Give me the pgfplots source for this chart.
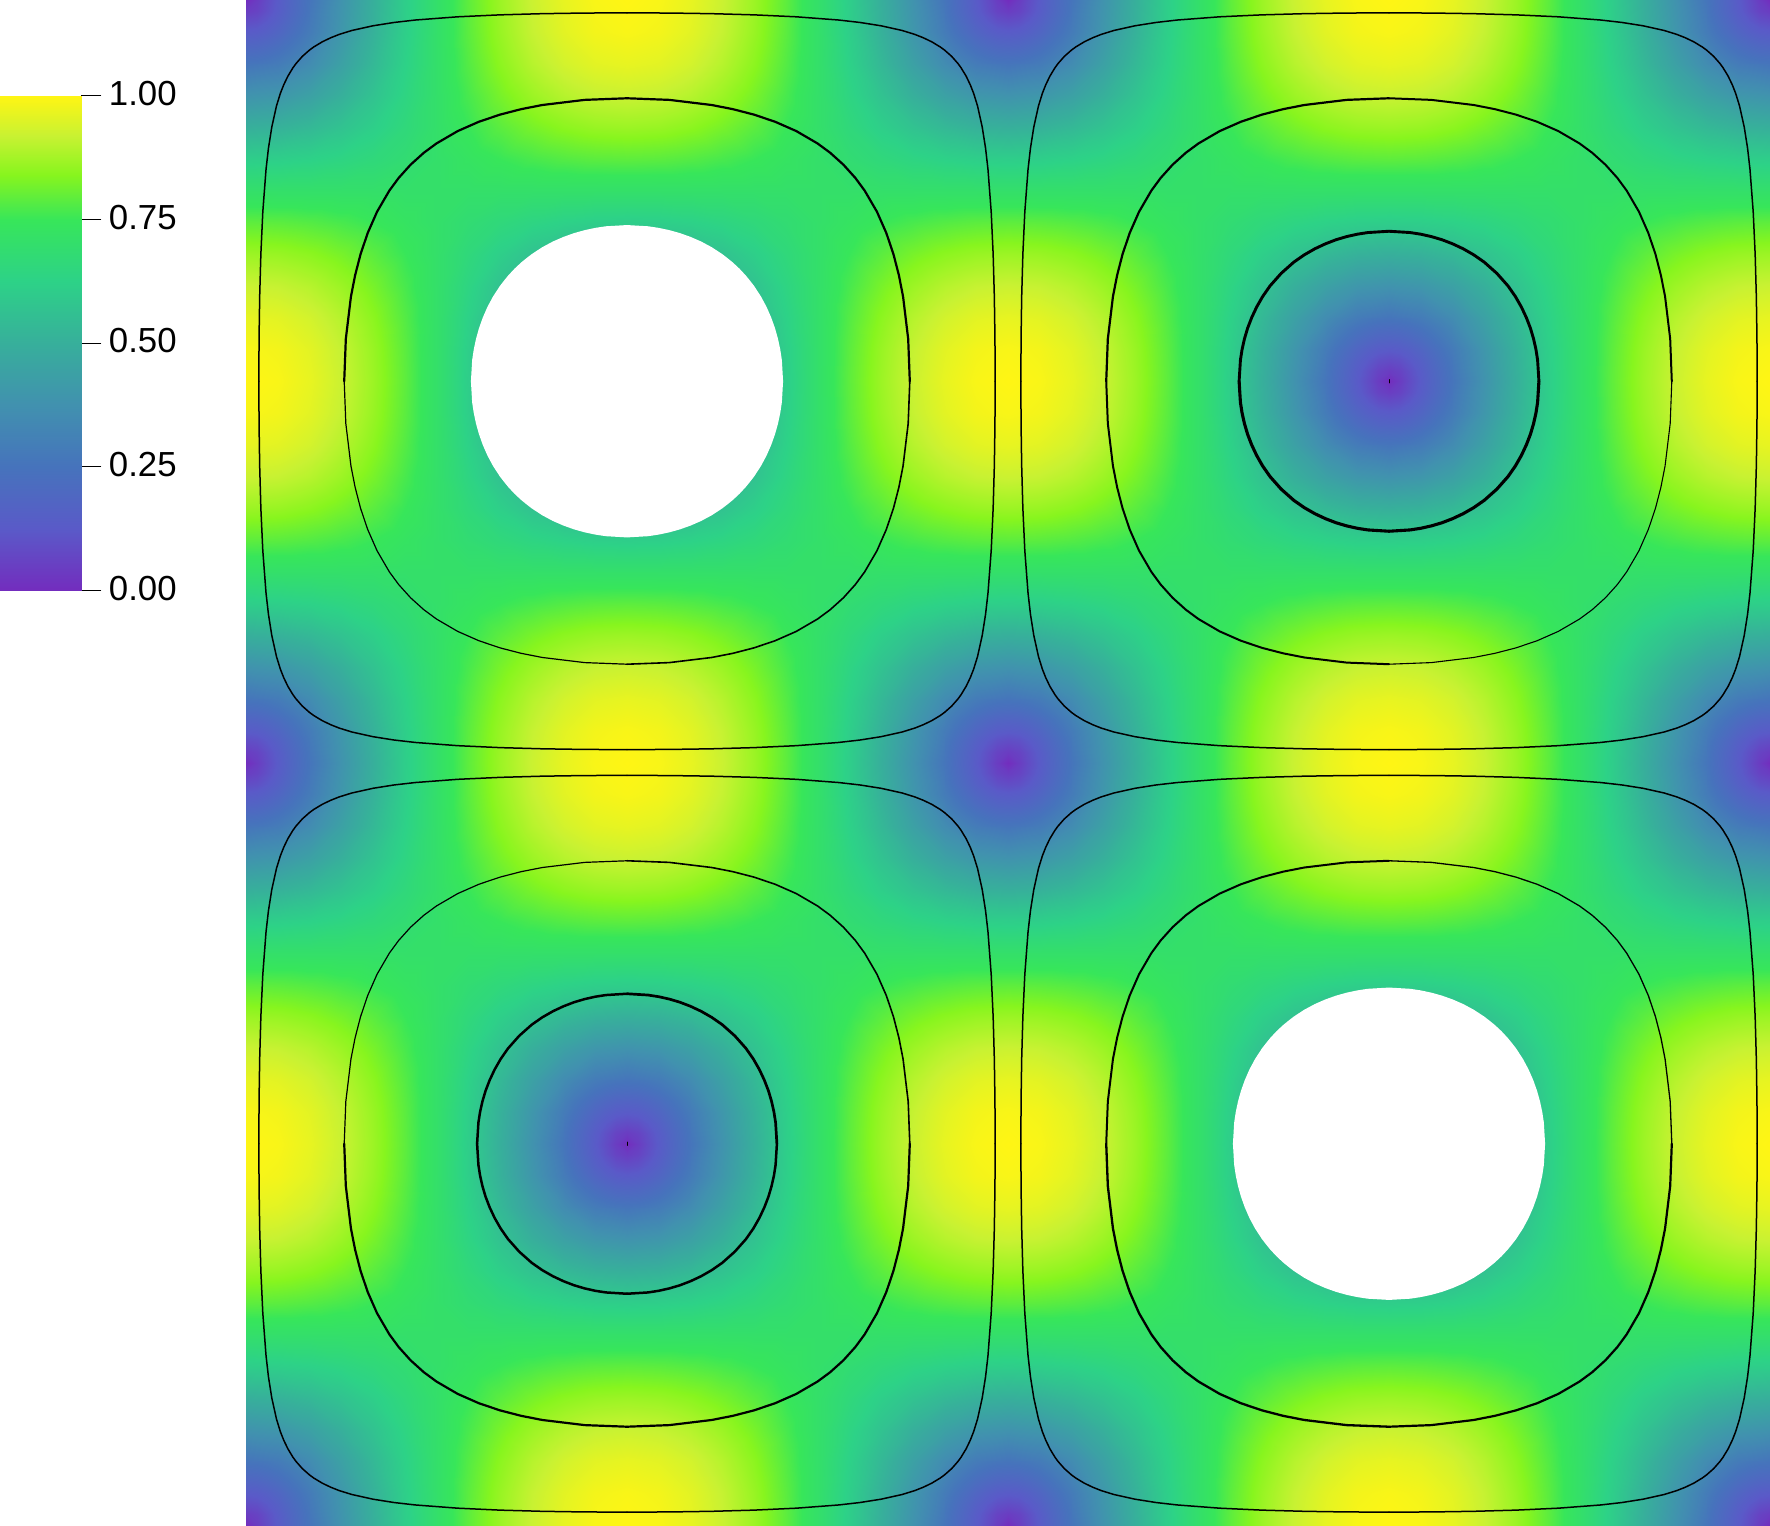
\documentclass[border=0pt]{standalone}
\usepackage{fontspec}
\setmainfont{Liberation Sans}
\usepackage{pgfplots}
\usepackage{pgfplotstable}
\pgfplotsset{compat=1.18}
\pgfplotsset{colormap={pv}{rgb255(0pt)=(115,45,190); rgb255(125pt)=(90,90,200); rgb255(250pt)=(70,115,188); rgb255(375pt)=(65,145,175); rgb255(500pt)=(55,175,155); rgb255(625pt)=(45,210,135); rgb255(750pt)=(55,230,90); rgb255(840pt)=(135,245,30); rgb255(920pt)=(200,242,50); rgb255(1000pt)=(255,245,20)}}
\pgfplotstableread{
x y m
0 0 0
1 0 0.1306
2 0 0.2588
3 0 0.3827
4 0 0.5
5 0 0.6088
6 0 0.7071
7 0 0.7934
8 0 0.8660
9 0 0.9239
10 0 0.9659
11 0 0.9914
12 0 1
0 1 0.1306
1 1 0.1830
2 1 0.2859
3 1 0.3981
4 1 0.5085
5 1 0.6124
6 1 0.7071
7 1 0.7906
8 1 0.8611
9 1 0.9173
10 1 0.9583
11 1 0.9831
12 1 0.9914
0 2 0.2588
1 2 0.2859
2 2 0.3536
3 2 0.4402
4 2 0.5324
5 2 0.6229
6 2 0.7071
7 2 0.7823
8 2 0.8465
9 2 0.8979
10 2 0.9354
11 2 0.9583
12 2 0.9659
0 3 0.3827
1 3 0.3981
2 3 0.4402
3 3 0.5
4 3 0.5685
5 3 0.6391
6 3 0.7071
7 3 0.7691
8 3 0.8227
9 3 0.8660
10 3 0.8979
11 3 0.9173
12 3 0.9239
0 4 0.5
1 4 0.5085
2 4 0.5324
3 4 0.5685
4 4 0.6124
5 4 0.6598
6 4 0.7071
7 4 0.7515
8 4 0.7906
9 4 0.8227
10 4 0.8465
11 4 0.8611
12 4 0.8660
0 5 0.6088
1 5 0.6124
2 5 0.6229
3 5 0.6391
4 5 0.6598
5 5 0.6830
6 5 0.7071
7 5 0.7304
8 5 0.7515
9 5 0.7691
10 5 0.7823
11 5 0.7906
12 5 0.7934
0 6 0.7071
1 6 0.7071
2 6 0.7071
3 6 0.7071
4 6 0.7071
5 6 0.7071
6 6 0.7071
7 6 0.7071
8 6 0.7071
9 6 0.7071
10 6 0.7071
11 6 0.7071
12 6 0.7071
0 7 0.7934
1 7 0.7906
2 7 0.7823
3 7 0.7691
4 7 0.7515
5 7 0.7304
6 7 0.7071
7 7 0.6830
8 7 0.6598
9 7 0.6391
10 7 0.6229
11 7 0.6124
12 7 0.6088
0 8 0.8660
1 8 0.8611
2 8 0.8465
3 8 0.8227
4 8 0.7906
5 8 0.7515
6 8 0.7071
7 8 0.6598
8 8 0.6124
9 8 0.5685
10 8 0.5324
11 8 0.5085
12 8 0.5
0 9 0.9239
1 9 0.9173
2 9 0.8979
3 9 0.8660
4 9 0.8227
5 9 0.7691
6 9 0.7071
7 9 0.6391
8 9 0.5685
9 9 0.5
10 9 0.4402
11 9 0.3981
12 9 0.3827
0 10 0.9659
1 10 0.9583
2 10 0.9354
3 10 0.8979
4 10 0.8465
5 10 0.7823
6 10 0.7071
7 10 0.6229
8 10 0.5324
9 10 0.4402
10 10 0.3536
11 10 0.2859
12 10 0.2588
0 11 0.9914
1 11 0.9831
2 11 0.9583
3 11 0.9173
4 11 0.8611
5 11 0.7906
6 11 0.7071
7 11 0.6124
8 11 0.5085
9 11 0.3981
10 11 0.2859
11 11 0.1830
12 11 0.1306
0 12 1
1 12 0.9914
2 12 0.9659
3 12 0.9239
4 12 0.8660
5 12 0.7934
6 12 0.7071
7 12 0.6088
8 12 0.5
9 12 0.3827
10 12 0.2588
11 12 0.1306
12 12 0
}\field
\pgfplotstableread{
x y m
0 0 0
1 0 0.04364
2 0 0.08715
3 0 0.13052
4 0 0.17365
5 0 0.21644
6 0 0.25882
0 1 0.04364
1 1 0.06164
2 1 0.09731
3 1 0.13739
4 1 0.17873
5 1 0.22039
6 1 0.26198
0 2 0.08715
1 2 0.09731
2 2 0.12278
3 2 0.15613
4 2 0.19311
5 2 0.23180
6 2 0.27123
0 3 0.13052
1 3 0.13739
2 3 0.15613
3 3 0.18300
4 3 0.21486
5 3 0.24957
6 3 0.28590
0 4 0.17365
1 4 0.17873
2 4 0.19311
3 4 0.21486
4 4 0.24185
5 4 0.27235
6 4 0.30512
0 5 0.21644
1 5 0.22039
2 5 0.23180
3 5 0.24957
4 5 0.27235
5 5 0.29883
6 5 0.32796
0 6 0.25882
1 6 0.26198
2 6 0.27123
3 6 0.28590
4 6 0.30512
5 6 0.32796
6 6 0.35355
}\fine
\pgfplotstableread{
a b
0 86.96
10 86.92
20 86.77
30 86.49
40 86.03
50 85.27
55 84.70
60 83.91
65 82.80
68 81.87
70 81.08
72 80.12
74 78.91
75 78.18
76.69 76.69
78.18 75
78.91 74
80.12 72
81.08 70
81.87 68
82.80 65
83.91 60
84.70 55
85.27 50
86.03 40
86.49 30
86.77 20
86.92 10
86.96 0
}\arcOuter
\pgfplotstableread{
a b
0 66.80
10 66.42
20 65.21
25 64.23
30 62.94
35 61.25
40 59.05
45 56.14
48 53.93
51.12 51.12
53.93 48
56.14 45
59.05 40
61.25 35
62.94 30
64.23 25
65.21 20
66.42 10
66.80 0
}\arcMid
\pgfplotstableread{
a b
0 35.41
5 35.10
7.5 34.71
10 34.15
12.5 33.41
15 32.45
17.5 31.28
20 29.85
22.5 28.11
25.47 25.47
28.11 22.5
29.85 20
31.28 17.5
32.45 15
33.41 12.5
34.15 10
34.71 7.5
35.10 5
35.41 0
}\arcIn
\pgfplotstableread{
a b
-2 -2
0 36.87
5 36.58
7.5 36.20
10 35.67
12.5 34.97
15 34.08
17.5 32.99
20 31.65
22.5 30.02
24 28.85
25 28.03
26.57 26.57
28.03 25
28.85 24
30.02 22.5
31.65 20
32.99 17.5
34.08 15
34.97 12.5
35.67 10
36.20 7.5
36.58 5
36.87 0
}\arcHole
\newcommand{\q}[4]{\addplot[surf,shader=interp,mesh/cols=13,point meta=explicit] table[x expr={#1#2\thisrow{x}},y expr={#3#4\thisrow{y}},meta=m]{\field};}
\newcommand{\zq}[4]{\addplot[surf,shader=interp,mesh/cols=7,point meta=explicit] table[x expr={#1#2\thisrow{x}/3},y expr={#3#4\thisrow{y}/3},meta=m]{\fine};}
\newcommand{\zero}[2]{\zq{#1}{-}{#2}{-}\zq{#1}{+}{#2}{-}\zq{#1}{-}{#2}{+}\zq{#1}{+}{#2}{+}}
% ring: table, cx, cy, widths of the quadrants upper left, upper right, lower left, lower right
\newcommand{\ring}[7]{%
\addplot[black,line width=#4pt] table[x expr={#2-\thisrow{a}/7.5},y expr={#3+\thisrow{b}/7.5}]{#1};
\addplot[black,line width=#5pt] table[x expr={#2+\thisrow{a}/7.5},y expr={#3+\thisrow{b}/7.5}]{#1};
\addplot[black,line width=#6pt] table[x expr={#2-\thisrow{a}/7.5},y expr={#3-\thisrow{b}/7.5}]{#1};
\addplot[black,line width=#7pt] table[x expr={#2+\thisrow{a}/7.5},y expr={#3-\thisrow{b}/7.5}]{#1};}
\newcommand{\hole}[2]{%
\addplot[fill=white,draw=none] table[x expr={#1-\thisrow{a}/7.5},y expr={#2+\thisrow{b}/7.5}]{\arcHole};
\addplot[fill=white,draw=none] table[x expr={#1+\thisrow{a}/7.5},y expr={#2+\thisrow{b}/7.5}]{\arcHole};
\addplot[fill=white,draw=none] table[x expr={#1-\thisrow{a}/7.5},y expr={#2-\thisrow{b}/7.5}]{\arcHole};
\addplot[fill=white,draw=none] table[x expr={#1+\thisrow{a}/7.5},y expr={#2-\thisrow{b}/7.5}]{\arcHole};}
\begin{document}
\begin{tikzpicture}
\path[use as bounding box] (0,0) rectangle (885pt,762.5pt);
\begin{axis}[at={(123pt,0pt)},anchor=south west,scale only axis,width=762pt,height=762.5pt,
 hide axis,xmin=0,xmax=48,ymin=0,ymax=48,colormap name=pv,point meta min=0,point meta max=1,
 every axis plot/.append style={line cap=round,line join=round}]
\q{0+}{1*}{0+}{1*}\q{24-}{1*}{0+}{1*}\q{24+}{1*}{0+}{1*}\q{48-}{1*}{0+}{1*}
\q{0+}{1*}{24-}{1*}\q{24-}{1*}{24-}{1*}\q{24+}{1*}{24-}{1*}\q{48-}{1*}{24-}{1*}
\q{0+}{1*}{24+}{1*}\q{24-}{1*}{24+}{1*}\q{24+}{1*}{24+}{1*}\q{48-}{1*}{24+}{1*}
\q{0+}{1*}{48-}{1*}\q{24-}{1*}{48-}{1*}\q{24+}{1*}{48-}{1*}\q{48-}{1*}{48-}{1*}
\zero{0}{0}\zero{24}{0}\zero{48}{0}
\zero{0}{24}\zero{24}{24}\zero{48}{24}
\zero{0}{48}\zero{24}{48}\zero{48}{48}
\zero{12}{12}\zero{36}{36}
\hole{12}{36}
\hole{36}{12}
\ring{\arcOuter}{12}{36}{0.75}{0.75}{0.75}{0.75}
\ring{\arcOuter}{36}{36}{0.75}{0.75}{0.75}{0.75}
\ring{\arcOuter}{12}{12}{0.75}{0.75}{0.75}{0.75}
\ring{\arcOuter}{36}{12}{0.75}{0.75}{0.75}{0.75}
\ring{\arcMid}{12}{36}{1.1}{1.1}{0.6}{0.8}
\ring{\arcMid}{36}{36}{1.1}{1.0}{1.0}{0.55}
\ring{\arcMid}{12}{12}{0.6}{0.8}{1.1}{1.1}
\ring{\arcMid}{36}{12}{1.0}{0.65}{1.15}{1.1}
\ring{\arcIn}{36}{36}{1.45}{1.45}{1.55}{1.55}
\ring{\arcIn}{12}{12}{1.25}{1.35}{1.25}{1.25}
\addplot[black,line width=0.5pt] coordinates {(36,35.95) (36,36.05)};
\addplot[black,line width=0.5pt] coordinates {(12,11.95) (12,12.05)};
\end{axis}
\begin{axis}[at={(0pt,467.25pt)},anchor=south west,scale only axis,width=40.65pt,height=247.25pt,
 xmin=0,xmax=1,ymin=0,ymax=1,colormap name=pv,point meta min=0,point meta max=1,
 axis line style={draw=none},xtick=\empty,ytick={0,0.25,0.5,0.75,1},ytick pos=right,
 tick align=outside,major tick length=10pt,tick style={black,line width=0.5pt},
 yticklabel style={font=\fontsize{17.4}{17.4}\selectfont,/pgf/number format/fixed,/pgf/number format/fixed zerofill,/pgf/number format/precision=2,/pgf/number format/assume math mode=true,yshift=1.2pt,xshift=0.3pt}]
\addplot[surf,shader=interp,mesh/cols=2,point meta=explicit] table[x=x,y=y,meta=y] {
x y
0 0
1 0
0 0.125
1 0.125
0 0.25
1 0.25
0 0.375
1 0.375
0 0.5
1 0.5
0 0.625
1 0.625
0 0.75
1 0.75
0 0.84
1 0.84
0 0.92
1 0.92
0 1
1 1
};
\end{axis}
\end{tikzpicture}
\end{document}
